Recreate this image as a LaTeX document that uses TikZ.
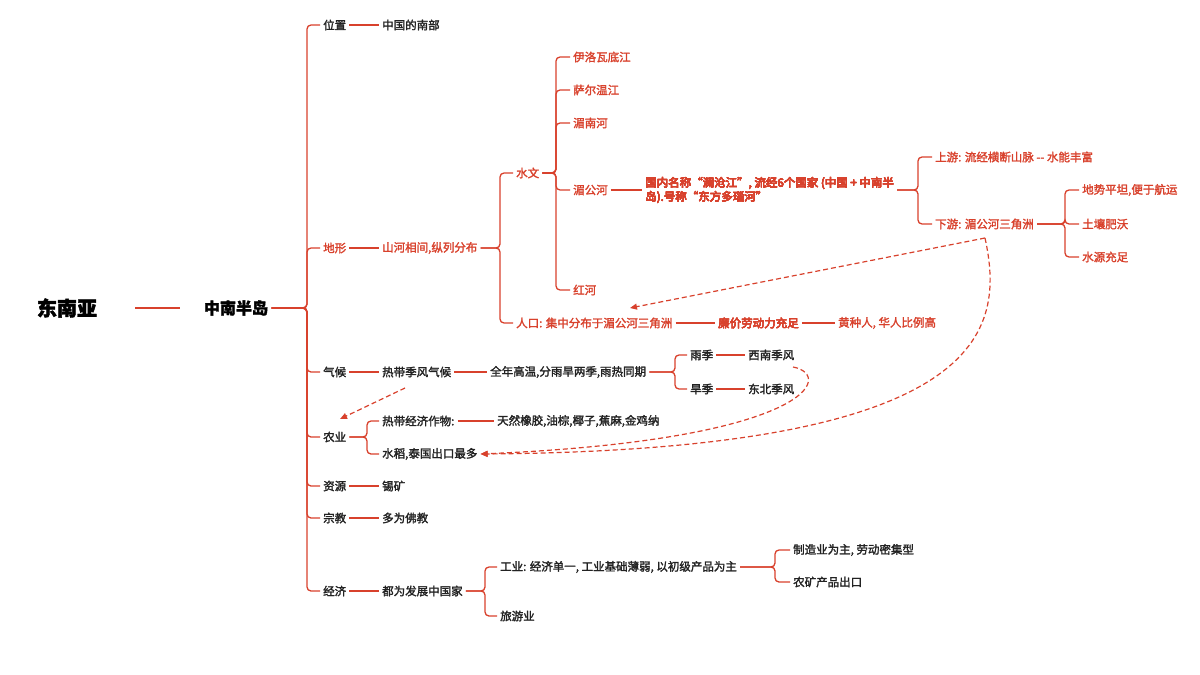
\documentclass[tikz,border=0pt]{standalone}
\usepackage{fontspec}
\setmainfont{Noto Sans CJK SC}[FakeBold=2]
\usetikzlibrary{arrows.meta}
\definecolor{mred}{HTML}{D8412C}
\definecolor{mtxt}{HTML}{222222}
\begin{document}
\begin{tikzpicture}[x=1pt,y=-1pt,
  txt/.style={anchor=west,inner sep=3pt,text=mtxt,font=\fontsize{11.5}{14}\selectfont},
  rtxt/.style={txt,text=mred},
  ln/.style={draw=mred,line width=1.3pt,rounded corners=4pt},
  lk/.style={draw=mred,line width=1.2pt,dash pattern=on 5pt off 3pt,-{Triangle[length=7pt,width=6pt]}}]
\useasboundingbox (0,0) rectangle (1200,675);
% links: parent, child, spine x
\newcommand\br[3]{\draw[ln] (#1.east) -- (#3,0 |- #1.east) |- (#2.west);}
\newcommand\ds[2]{\draw[ln] (#1.east) -- (#2.west);}

\node[anchor=center,text=black,font=\fontsize{20}{24}\bfseries\selectfont] (root) at (67,308) {东南亚};
\node[anchor=center,text=black,font=\fontsize{16}{19}\bfseries\selectfont] (peni) at (236,308) {中南半岛};
\draw[ln] (135,308) -- (180,308);

% first level
\node[txt] (pos) at (320,25) {位置};
\node[rtxt] (terr) at (320,248) {地形};
\node[txt] (clim) at (320,372) {气候};
\node[txt] (agri) at (320,437) {农业};
\node[txt] (reso) at (320,486) {资源};
\node[txt] (reli) at (320,518) {宗教};
\node[txt] (econ) at (320,591) {经济};
\foreach \n in {pos,terr,clim,agri,reso,reli,econ}
  \draw[ln] (peni.east) -- (307,308) |- (\n.west);

% position
\node[txt] (south) at (379,25) {中国的南部};
\draw[ln] (pos.east) -- (south.west);

% terrain
\node[rtxt] (mount) at (379,248) {山河相间,纵列分布};
\ds{terr}{mount}
\node[rtxt] (hydro) at (513,173) {水文};
\node[rtxt] (popu) at (513,323) {人口: 集中分布于湄公河三角洲};
\br{mount}{hydro}{500} \br{mount}{popu}{500}
\node[rtxt] (irra) at (570,57) {伊洛瓦底江};
\node[rtxt] (salw) at (570,90) {萨尔温江};
\node[rtxt] (chao) at (570,123) {湄南河};
\node[rtxt] (meko) at (570,190) {湄公河};
\node[rtxt] (redr) at (570,290) {红河};
\foreach \n in {irra,salw,chao,meko,redr} \br{hydro}{\n}{556}
\node[rtxt,align=left] (mdesc) at (642,190) {国内名称“澜沧江”, 流经6个国家 (中国 + 中南半\\岛).号称“东方多瑙河”};
\ds{meko}{mdesc}
\node[rtxt] (upst) at (932,157) {上游: 流经横断山脉 {-}{-} 水能丰富};
\node[rtxt] (down) at (932,224) {下游: 湄公河三角洲};
\br{mdesc}{upst}{918} \br{mdesc}{down}{918}
\node[rtxt] (flat) at (1079,190) {地势平坦,便于航运};
\node[rtxt] (soil) at (1079,224) {土壤肥沃};
\node[rtxt] (watr) at (1079,257) {水源充足};
\foreach \n in {flat,soil,watr} \br{down}{\n}{1065}
\node[rtxt] (labr) at (715,323) {廉价劳动力充足};
\node[rtxt] (race) at (835,323) {黄种人, 华人比例高};
\ds{popu}{labr} \ds{labr}{race}

% climate
\node[txt] (trop) at (379,372) {热带季风气候};
\node[txt] (heat) at (487,372) {全年高温,分雨旱两季,雨热同期};
\ds{clim}{trop} \ds{trop}{heat}
\node[txt] (rain) at (687,355) {雨季};
\node[txt] (dry) at (687,389) {旱季};
\br{heat}{rain}{675} \br{heat}{dry}{675}
\node[txt] (swm) at (745,355) {西南季风};
\node[txt] (nem) at (745,389) {东北季风};
\ds{rain}{swm} \ds{dry}{nem}

% agriculture
\node[txt] (crop) at (379,421) {热带经济作物:};
\node[txt] (rice) at (379,454) {水稻,泰国出口最多};
\br{agri}{crop}{367} \br{agri}{rice}{367}
\node[txt] (rubb) at (494,421) {天然橡胶,油棕,椰子,蕉麻,金鸡纳};
\ds{crop}{rubb}

% resources, religion
\node[txt] (tin) at (379,486) {锡矿};
\node[txt] (budd) at (379,518) {多为佛教};
\ds{reso}{tin} \ds{reli}{budd}

% economy
\node[txt] (devp) at (379,591) {都为发展中国家};
\ds{econ}{devp}
\node[txt] (indu) at (497,567) {工业: 经济单一, 工业基础薄弱, 以初级产品为主};
\node[txt] (tour) at (497,616) {旅游业};
\br{devp}{indu}{485} \br{devp}{tour}{485}
\node[txt] (manu) at (790,550) {制造业为主, 劳动密集型};
\node[txt] (expo) at (790,582) {农矿产品出口};
\br{indu}{manu}{775} \br{indu}{expo}{775}

% cross links
\coordinate (dtail) at (985,238);
\draw[lk] (405,388) -- (340,419);
\draw[lk] (dtail) -- (630,308);
\draw[lk] (dtail) .. controls (1005,330) and (990,450) .. (rice.east);
\draw[lk] (793,367) .. controls (835,375) and (810,440) .. (rice.east);
\end{tikzpicture}
\end{document}
